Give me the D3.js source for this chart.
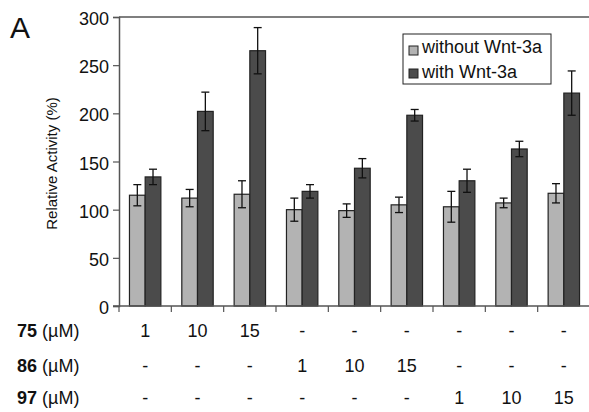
<!DOCTYPE html>
<html>
<head>
<meta charset="utf-8">
<script src="https://cdn.jsdelivr.net/npm/d3@7"></script>
<style>
  body { margin: 0; background: #fff; }
  svg { font-family: "Liberation Sans", Arial, sans-serif; }
</style>
</head>
<body>
<div id="chart"></div>
<script>
// data
const groups = ["g1", "g2", "g3", "g4", "g5", "g6", "g7", "g8", "g9"];
const withoutWnt = [115, 112, 116, 100, 99, 105, 103, 107, 117];
const withoutErr = [11, 9, 14, 12, 7, 8, 16, 5, 10];
const withWnt = [134, 202, 265, 119, 143, 198, 130, 163, 221];
const withErr = [8, 20, 24, 7, 10, 6, 12, 8, 23];
const yTicks = [0, 50, 100, 150, 200, 250, 300];
const row75 = ["1", "10", "15", "-", "-", "-", "-", "-", "-"];
const row86 = ["-", "-", "-", "1", "10", "15", "-", "-", "-"];
const row97 = ["-", "-", "-", "-", "-", "-", "1", "10", "15"];
const rowNames = ["75", "86", "97"];
const seriesNames = ["without Wnt-3a", "with Wnt-3a"];

const width = 589, height = 412;
const margin = {top: 17, right: 0, bottom: 106, left: 119};
const colors = ["#b3b3b3", "#4b4b4b"];

const svg = d3.select("#chart")
    .append("svg")
    .attr("width", width)
    .attr("height", height);

const x0 = d3.scaleBand()
    .domain(groups)
    .range([margin.left, width + 1])
    .padding(0);

const x1 = d3.scaleBand()
    .domain(seriesNames)
    .range([0, x0.bandwidth()])
    .paddingInner(0)
    .paddingOuter(0.667);

const y = d3.scaleLinear()
    .domain([0, 300])
    .range([height - margin.bottom, margin.top]);

// top frame line
svg.append("line")
    .attr("x1", margin.left).attr("x2", width)
    .attr("y1", y(300)).attr("y2", y(300))
    .style("stroke", "#555").style("stroke-width", 1.5);

// y axis
const yAxis = svg.append("g")
    .attr("transform", "translate(" + margin.left + ",0)")
    .call(d3.axisLeft(y).tickValues(yTicks).tickSize(6).tickPadding(4));
yAxis.attr("font-size", null);
yAxis.select(".domain").style("stroke", "#555").style("stroke-width", 1.5);
yAxis.selectAll(".tick line").style("stroke", "#555").style("stroke-width", 1.2);
yAxis.selectAll("text").attr("dy", "0.42em").style("font-size", "18px").style("fill", "#111");

// bars
const rows = groups.map((g, i) => ({
    g: g,
    vals: [
        {s: seriesNames[0], v: withoutWnt[i], e: withoutErr[i]},
        {s: seriesNames[1], v: withWnt[i], e: withErr[i]}
    ]
}));

const gg = svg.selectAll(".grp")
    .data(rows).enter()
    .append("g")
    .attr("class", "grp")
    .attr("transform", d => "translate(" + x0(d.g) + ",0)");

gg.selectAll("rect")
    .data(d => d.vals).enter()
    .append("rect")
    .attr("x", d => x1(d.s))
    .attr("y", d => y(d.v))
    .attr("width", x1.bandwidth())
    .attr("height", d => y(0) - y(d.v))
    .style("fill", (d, i) => colors[i])
    .style("stroke", "#222")
    .style("stroke-width", 1.2);

// error bars
const eb = gg.selectAll(".err")
    .data(d => d.vals).enter()
    .append("g")
    .attr("class", "err")
    .attr("transform", d => "translate(" + (x1(d.s) + x1.bandwidth() / 2) + ",0)");
eb.append("line")
    .attr("y1", d => y(d.v - d.e)).attr("y2", d => y(d.v + d.e))
    .style("stroke", "#111").style("stroke-width", 1.3);
eb.append("line")
    .attr("x1", -4).attr("x2", 4)
    .attr("y1", d => y(d.v + d.e)).attr("y2", d => y(d.v + d.e))
    .style("stroke", "#111").style("stroke-width", 1.3);
eb.append("line")
    .attr("x1", -4).attr("x2", 4)
    .attr("y1", d => y(d.v - d.e)).attr("y2", d => y(d.v - d.e))
    .style("stroke", "#111").style("stroke-width", 1.3);

// x axis with ticks between groups
const xAxis = svg.append("g")
    .attr("transform", "translate(0," + y(0) + ")");
xAxis.append("line")
    .attr("x1", margin.left - 6).attr("x2", width)
    .style("stroke", "#555").style("stroke-width", 1.5);
xAxis.selectAll(".xt")
    .data(groups).enter()
    .append("line")
    .attr("x1", d => x0(d)).attr("x2", d => x0(d))
    .attr("y1", 0).attr("y2", 6)
    .style("stroke", "#555").style("stroke-width", 1.2);

// y label
svg.append("text")
    .attr("transform", "translate(57," + (y(150) + 2) + ") rotate(-90)")
    .attr("text-anchor", "middle")
    .style("font-size", "15px")
    .style("fill", "#111")
    .text("Relative Activity (%)");

// panel letter
svg.append("text")
    .attr("x", 10).attr("y", 38)
    .style("font-size", "30px")
    .style("fill", "#111")
    .text("A");

// concentration rows
const rowY = [337, 372, 404];
[row75, row86, row97].forEach((r, k) => {
    const t = svg.append("text")
        .attr("x", 17).attr("y", rowY[k])
        .style("font-size", "18px")
        .style("fill", "#111");
    t.append("tspan").style("font-weight", "bold").text(rowNames[k]);
    t.append("tspan").text(" (\u00b5M)");

    svg.selectAll(".r" + k)
        .data(r).enter()
        .append("text")
        .attr("x", (d, i) => x0(groups[i]) + x0.bandwidth() / 2)
        .attr("y", rowY[k])
        .attr("text-anchor", "middle")
        .style("font-size", "18px")
        .style("fill", "#111")
        .text(d => d);
});

// legend
const lg = svg.append("g").attr("transform", "translate(403,34)");
lg.append("rect")
    .attr("width", 148).attr("height", 50)
    .style("fill", "#fff").style("stroke", "#222").style("stroke-width", 1);
seriesNames.forEach((s, i) => {
    lg.append("rect")
        .attr("x", 6).attr("y", 12 + i * 23)
        .attr("width", 9).attr("height", 9)
        .style("fill", colors[i]).style("stroke", "#222").style("stroke-width", 1);
    lg.append("text")
        .attr("x", 19).attr("y", 19 + i * 25)
        .style("font-size", "18px")
        .style("fill", "#111")
        .text(s);
});
</script>
</body>
</html>
